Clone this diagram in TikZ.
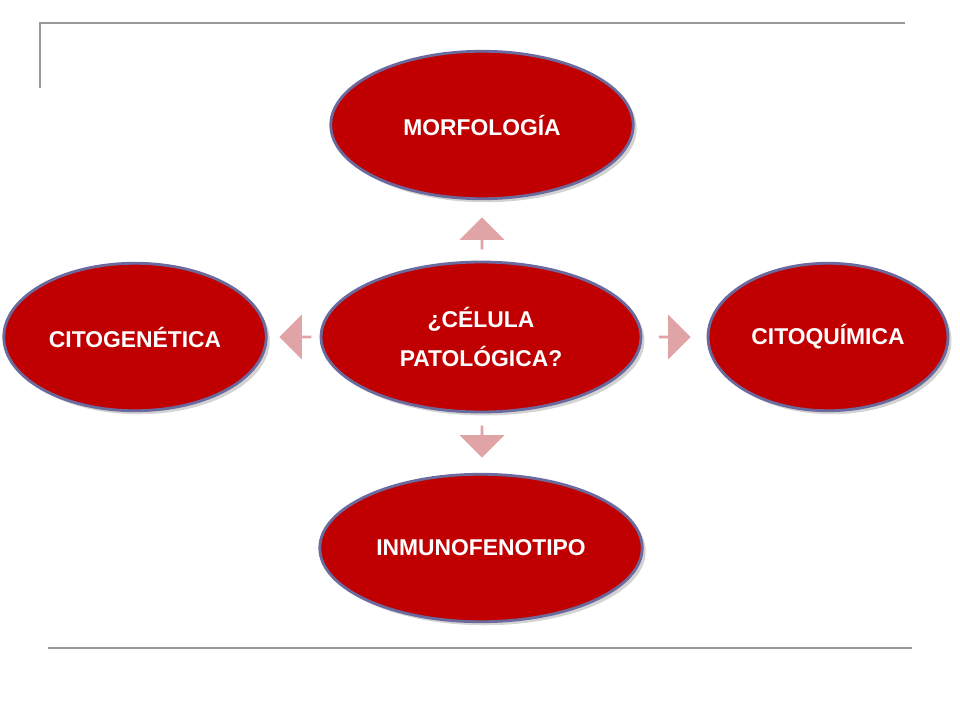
\documentclass[tikz,border=0pt]{standalone}
\usepackage{fontspec}
\setmainfont{Liberation Sans}
\usetikzlibrary{shapes.arrows,shapes.geometric,shadows}
\definecolor{cellred}{HTML}{C00000}
\definecolor{rimblue}{HTML}{6A6A9E}
\definecolor{pinkarrow}{HTML}{E0A4A6}
\begin{document}
\begin{tikzpicture}[x=0.02cm,y=-0.02cm]
	\tikzset{
		bubble/.style={ellipse, fill=cellred, draw=rimblue, line width=1.6pt, text=white,
			font=\bfseries\fontsize{13}{22}\selectfont, align=center,
			drop shadow={shadow xshift=2pt, shadow yshift=-2pt, opacity=0.35}},
		pointer/.style={single arrow, fill=pinkarrow, draw=none, minimum height=0.64cm,
			minimum width=0.9cm, single arrow head extend=0.1cm, inner sep=0pt}
	}
	\useasboundingbox (0,0) rectangle (960,720);
	\draw[gray!80, line width=1pt] (40,88) -- (40,23) -- (905,23);
	\draw[gray!80, line width=1pt] (48,648) -- (912,648);
	% ellipses
	\node[bubble, minimum width=6.4cm, minimum height=3cm] (cell) at (481,337) {¿CÉLULA\\PATOLÓGICA?};
	\node[bubble, minimum width=6.05cm, minimum height=2.95cm] (morf) at (482,125) {MORFOLOGÍA};
	\node[bubble, minimum width=5.25cm, minimum height=2.95cm] (cgen) at (135,337) {CITOGENÉTICA};
	\node[bubble, minimum width=4.8cm, minimum height=2.95cm] (cqui) at (828,337) {CITOQUÍMICA};
	\node[bubble, minimum width=6.45cm, minimum height=2.95cm] (inmu) at (481,548) {INMUNOFENOTIPO};
	% arrows
	\node[pointer, rotate=90] (up) at (482,234) {};
	\node[pointer, rotate=180] (left) at (296,337) {};
	\node[pointer] (right) at (674,337) {};
	\node[pointer, rotate=-90] (down) at (482,441) {};
\end{tikzpicture}
\end{document}
